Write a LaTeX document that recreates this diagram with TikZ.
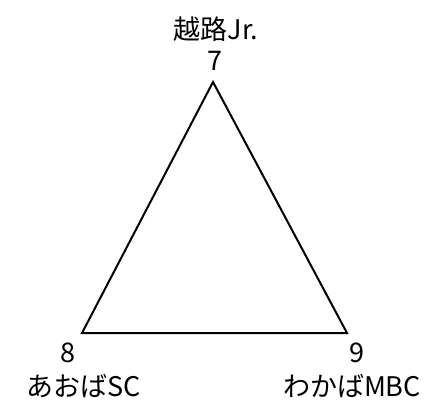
\documentclass[tikz,border=0pt]{standalone}
\usepackage{fontspec}
\setmainfont{Noto Sans CJK JP}
\begin{document}
\begin{tikzpicture}[x=1pt,y=-1pt,
  lbl/.style={inner sep=0pt,font=\fontsize{27}{32}\selectfont},
  edge/.style={line width=2pt,line join=miter}]
\useasboundingbox (0,0) rectangle (433,400);
\coordinate (v7) at (213,82);
\coordinate (v8) at (82,333);
\coordinate (v9) at (347,333);
\draw[edge] (v7) -- (v8) -- (v9) -- cycle;
\node[lbl] (n7) at (215,61) {7};
\node[lbl] (t7) at (216,29) {越路Jr.};
\node[lbl] (n8) at (68,353) {8};
\node[lbl] (t8) at (84,386) {あおばSC};
\node[lbl] (n9) at (357,353) {9};
\node[lbl] (t9) at (352,386) {わかばMBC};
\end{tikzpicture}
\end{document}
